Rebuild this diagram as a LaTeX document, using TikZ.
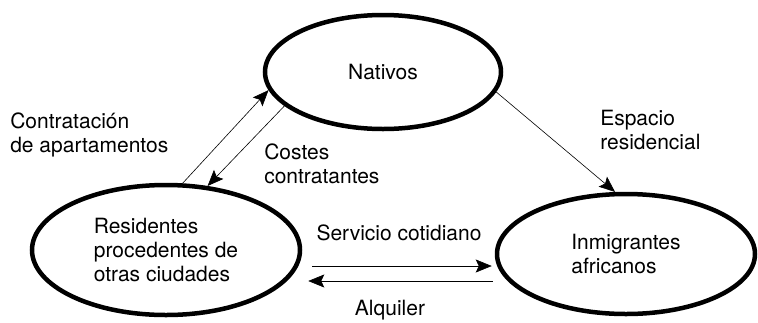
\documentclass[tikz,border=0pt]{standalone}
\usepackage{fontspec}
\setmainfont{TeX Gyre Heros}
\usetikzlibrary{arrows.meta}
\usetikzlibrary{shapes.geometric}

\begin{document}
\begin{tikzpicture}[->,>={Stealth[length=16pt,width=13pt,inset=3pt]},
                    x=1pt,y=-1pt,line width=0.6pt,
                    font=\fontsize{21}{24}\selectfont]
  \tikzstyle{agent}=[ellipse,draw,line width=4.5pt,inner sep=0pt,align=left]
  \tikzstyle{lbl}=[align=left,inner sep=0pt,anchor=west]

  \useasboundingbox (0,0) rectangle (758,322);

  \node[agent, minimum width=236pt, minimum height=114pt] (N) at (383,72) {Nativos};
  \node[agent, minimum width=268pt, minimum height=130pt] (R) at (166,250) {Residentes\\procedentes de\\otras ciudades};
  \node[agent, minimum width=258pt, minimum height=120pt] (I) at (626,254) {Inmigrantes\\africanos};

  \node[lbl] (lc) at (10,135) {Contratación\\de apartamentos};
  \node[lbl] (lk) at (264,164) {Costes\\contratantes};
  \node[lbl] (le) at (600,130) {Espacio\\residencial};
  \node[inner sep=0pt] (ls) at (399,233) {Servicio cotidiano};
  \node[inner sep=0pt] (la) at (390,310) {Alquiler};

  \path (R.76) edge (N.189)
        (N.199) edge (R.57)
        (N.-10) edge (I.100)
        (R.east |- 0,266) edge [shorten <=10pt, shorten >=3pt] (I.west |- 0,266)
        (I.west |- 0,281) edge [shorten <=2pt, shorten >=6pt] (R.east |- 0,281);
\end{tikzpicture}
\end{document}
